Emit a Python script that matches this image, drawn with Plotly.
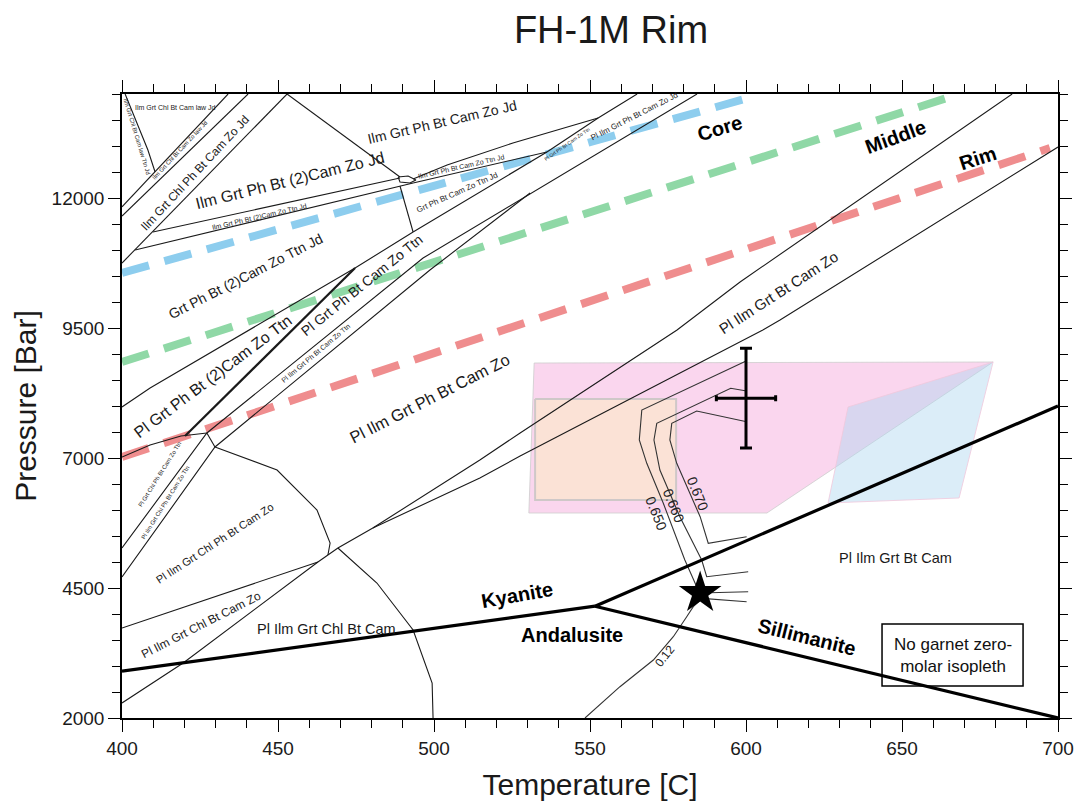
import plotly.graph_objects as go

# ---- phase-field boundaries (T [C], P [Bar]) ----
line_a = [(401.0, 14000), (405.1, 13404), (408.3, 12923), (410.6, 12500)]
line_b = [(434.0, 14000), (400.0, 11830)]
line_c = [(440.4, 14000), (400.0, 11654)]
line_d = [(452.9, 14000), (400.0, 10750)]
line_e = [(452.9, 14000), (489.1, 12404)]
lens = [(488.5, 12404), (491.7, 12423), (494.2, 12346), (492.3, 12288), (489.1, 12308), (488.5, 12404)]
line_g_top = [(409.9, 11346), (489.1, 12385)]
line_g_bot = [(404.2, 11000), (493.3, 12288)]
line_v = [(489.1, 12231), (493.3, 11346)]
line_f = [(493.3, 12365), (504.2, 12635), (525.3, 13058), (552.6, 13538)]
line_h = [(493.3, 12288), (536.2, 12885)]
line_k = [(493.3, 11346), (536.2, 12885), (552.6, 13538), (565.1, 14000)]
line_m1 = [(400.0, 5269), (427.2, 7481), (496.5, 10846), (584.3, 14000)]
line_ld = [(400.0, 4712), (429.8, 7212), (498.7, 10615), (530.8, 12096)]
line_conn = [(427.2, 7481), (429.8, 7212)]
line_la = [(400.0, 7981), (409.0, 8346), (474.7, 10654), (493.3, 11346)]
line_lb = [(420.2, 7423), (474.7, 10654)]
curve_p = [(400.0, 7019), (409.0, 7250), (418.9, 7423), (427.2, 7481)]
arc_1 = [(429.8, 7212), (449.7, 6769), (462.5, 6000), (466.7, 5365), (466.0, 5135)]
line_q1 = [(400.0, 3731), (462.8, 5000)]
line_q2 = [(400.0, 2288), (419.6, 3058), (462.8, 5000)]
line_r = [(462.8, 5000), (466.0, 5135), (469.2, 5269), (480.4, 5654)]
line_up = [(480.4, 5654), (514.7, 6962), (527.6, 7481), (577.9, 9462), (598.1, 10385), (685.3, 14000)]
line_low = [(480.4, 5654), (514.7, 6615), (527.6, 7038), (605.4, 9462), (610.9, 9654), (700.0, 12981)]
arc_2 = [(469.2, 5269), (481.7, 4596), (493.3, 3692), (499.4, 2673), (499.7, 2000)]

thin_lines = [line_a, line_b, line_c, line_d, line_e, lens, line_g_top, line_g_bot, line_v,
              line_f, line_h, line_k, line_m1, line_ld, line_conn, line_la, curve_p, arc_1,
              line_q1, line_q2, line_r, line_up, line_low, arc_2]

# ---- Al2SiO5 reactions ----
triple_point = (551.6, 4150)
ky_and = [(400.0, 2900), triple_point]
ky_sil = [triple_point, (700.0, 8000)]
and_sil = [triple_point, (700.0, 2000)]

# ---- garnet isopleths ----
iso_650 = [(600.2, 8871), (566.6, 7923), (565.8, 7346), (568.2, 6898), (573.5, 6129),
           (580.4, 5038), (584.2, 4525), (585.3, 4404), (600.7, 4429)]
iso_660 = [(600.2, 8290), (595.1, 8340), (571.4, 7667), (570.5, 7346), (572.4, 6769),
           (578.8, 5871), (585.8, 5038), (587.4, 4717), (600.7, 4813)]
iso_670 = [(600.2, 7698), (584.2, 7904), (576.2, 7667), (575.6, 7346), (577.8, 6898),
           (585.3, 5871), (587.9, 5360), (600.2, 5487)]
iso_012 = [(548.4, 2000), (559.6, 2602), (570.3, 3115), (576.7, 3563), (581.0, 3948),
           (583.1, 4140), (586.0, 4300), (600.2, 4237)]

# ---- zoning trends (core / middle / rim) ----
core_T, core_P = [400.0, 601.9], [10558, 13942]
middle_T, middle_P = [400.0, 665.4], [8846, 13942]
rim_T, rim_P = [400.0, 697.4], [7019, 12961]

# ---- P-T estimate fields ----
pink_field = [(532.1, 8827), (679.2, 8846), (606.7, 5942), (530.4, 5942)]
orange_field = [(532.4, 8135), (577.6, 8135), (577.6, 6192), (532.4, 6192)]
blue_field = [(632.7, 7981), (679.2, 8846), (668.3, 6231), (626.3, 6134)]

# ---- peak estimate and star ----
peak_T, peak_P, peak_dT, peak_dP = 600.0, 8150, 9.5, 960
star_T, star_P = 585.3, 4404

# ---- axis ticks ----
x_ticks = [400, 450, 500, 550, 600, 650, 700]
y_ticks = [2000, 4500, 7000, 9500, 12000]

# ---- field labels: text, T, P, angle, size ----
field_labels = [
    ("Ilm Grt Chl Bt Cam law Jd", 417.0, 13750, 0, 7),
    ("Ilm Grt Chl Bt Cam law Ttn Jd", 404.8, 13173, 73, 6),
    ("Ilm Grt Chl Bt Cam Zo law Jd", 418.6, 12923, -47, 6),
    ("Ilm Grt Chl Ph Bt Cam Zo Jd", 423.4, 12481, -47, 12),
    ("Ilm Grt Ph Bt (2)Cam Zo Jd", 453.8, 12346, -14, 16),
    ("Ilm Grt Ph Bt (2)Cam Zo Ttn Jd", 444.2, 11635, -13, 7),
    ("Ilm Grt Ph Bt Cam Zo Jd", 502.6, 13462, -13, 14),
    ("Ilm Grt Ph Bt Cam Zo Ttn Jd", 508.7, 12615, -13, 7),
    ("Grt Ph Bt Cam Zo Ttn Jd", 507.4, 12115, -24, 8),
    ("Pl Grt Ph Bt Cam Zo Ttn", 542.6, 13038, -35, 5),
    ("Pl Ilm Grt Ph Bt Cam Zo Jd", 564.1, 13577, -27, 8),
    ("Grt Ph Bt (2)Cam Zo Ttn Jd", 439.7, 10500, -27, 14),
    ("Pl Grt Ph Bt (2)Cam Zo Ttn", 429.2, 8558, -37, 16),
    ("Pl Grt Ph Bt Cam Zo Ttn", 476.9, 10327, -39, 14),
    ("Pl Ilm Grt Ph Bt Cam Zo Ttn", 461.9, 9019, -40, 7),
    ("Pl Ilm Grt Ph Bt Cam Zo", 498.7, 8154, -27, 16.5),
    ("Pl Grt Chl Ph Bt Cam Zo Ttn", 412.2, 6692, -58, 6),
    ("Pl Ilm Grt Chl Ph Bt Cam Zo Ttn", 413.8, 6135, -58, 6),
    ("Pl Ilm Grt Chl Ph Bt Cam Zo", 429.8, 5365, -33, 11),
    ("Pl Ilm Grt Chl Bt Cam Zo", 425.3, 3788, -27, 12),
    ("Pl Ilm Grt Chl Bt Cam", 465.7, 3712, 0, 14.5),
    ("Pl Ilm Grt Bt Cam Zo", 610.3, 10192, -33, 15),
    ("Pl Ilm Grt Bt Cam", 647.8, 5077, 0, 14.5),
]
mineral_labels = [
    ("Kyanite", 526.6, 4365, -10),
    ("Andalusite", 544.2, 3596, 0),
    ("Sillimanite", 619.6, 3558, 14),
]
zone_labels = [
    ("Core", 591.7, 13346, -17),
    ("Middle", 647.8, 13173, -20),
    ("Rim", 674.4, 12769, -18),
]
iso_labels = [
    ("0.650", 571.2, 5942, 68, 14),
    ("0.660", 576.9, 6077, 68, 14),
    ("0.670", 584.6, 6308, 68, 14),
    ("0.12", 574.0, 3192, -52, 12),
]
note_box = (643.6, 688.8, 2615, 3808)
note_text = "No garnet zero-<br>molar isopleth"

FONT = "Arial, Liberation Sans, sans-serif"

fig = go.Figure()


def add_path(pts, width=1.0, color="#1a1a1a", dash=None, fill=None, fillcolor=None, opacity=1.0):
    xs = [p[0] for p in pts]
    ys = [p[1] for p in pts]
    fig.add_trace(go.Scatter(
        x=xs, y=ys, mode="lines",
        line=dict(color=color, width=width, dash=dash),
        fill=fill, fillcolor=fillcolor, opacity=opacity,
        hoverinfo="skip", showlegend=False,
    ))


# shaded P-T fields
add_path(pink_field + [pink_field[0]], width=1, color="rgba(205,205,205,0.8)",
         fill="toself", fillcolor="#fad6ee")
add_path(orange_field + [orange_field[0]], width=2, color="#cfc8c8",
         fill="toself", fillcolor="#fbe2d6")
add_path(blue_field + [blue_field[0]], width=1, color="rgba(240,200,220,0.8)",
         fill="toself", fillcolor="rgba(175,215,240,0.45)")

# zoning trend lines
add_path(list(zip(core_T, core_P)), width=8, color="#8dcdee", dash="28px,16px")
add_path(list(zip(middle_T, middle_P)), width=8, color="#8fd8a6", dash="28px,16px")
add_path(list(zip(rim_T, rim_P)), width=8, color="#ef8d8e", dash="28px,16px")

# phase-field boundaries
for pts in thin_lines:
    add_path(pts, width=1.1)
add_path(line_lb, width=2.2)

# isopleths
for pts in (iso_650, iso_660, iso_670, iso_012):
    add_path(pts, width=1.1, color="#333333")

# Al2SiO5 reactions
for pts in (ky_and, ky_sil, and_sil):
    add_path(pts, width=3.2, color="#000000")

# peak estimate with uncertainties
fig.add_trace(go.Scatter(
    x=[peak_T], y=[peak_P], mode="markers",
    marker=dict(size=1, color="black"),
    error_x=dict(type="data", array=[peak_dT], color="black", thickness=3, width=3),
    error_y=dict(type="data", array=[peak_dP], color="black", thickness=3, width=6),
    hoverinfo="skip", showlegend=False,
))

# star
fig.add_trace(go.Scatter(
    x=[star_T], y=[star_P], mode="markers",
    marker=dict(symbol="star", size=32, color="black"),
    hoverinfo="skip", showlegend=False,
))

annotations = []
for text, t, p, ang, size in field_labels:
    annotations.append(dict(x=t, y=p, text=text, textangle=ang, showarrow=False,
                            font=dict(family=FONT, size=size, color="#1a1a1a")))
for text, t, p, ang in mineral_labels:
    annotations.append(dict(x=t, y=p, text="<b>%s</b>" % text, textangle=ang, showarrow=False,
                            font=dict(family=FONT, size=20, color="#000000")))
for text, t, p, ang in zone_labels:
    annotations.append(dict(x=t, y=p, text="<b>%s</b>" % text, textangle=ang, showarrow=False,
                            font=dict(family=FONT, size=20, color="#000000")))
for text, t, p, ang, size in iso_labels:
    annotations.append(dict(x=t, y=p, text=text, textangle=ang, showarrow=False,
                            font=dict(family=FONT, size=size, color="#222222")))
annotations.append(dict(x=(note_box[0] + note_box[1]) / 2, y=(note_box[2] + note_box[3]) / 2,
                        text=note_text, showarrow=False,
                        font=dict(family=FONT, size=17, color="#111111")))

fig.add_shape(type="rect", x0=note_box[0], x1=note_box[1], y0=note_box[2], y1=note_box[3],
              line=dict(color="black", width=1.5), fillcolor="white", layer="below")

fig.update_layout(
    width=1088, height=803,
    margin=dict(l=122, r=30, t=94, b=85),
    paper_bgcolor="white", plot_bgcolor="white",
    title=dict(text="FH-1M Rim", x=0.5616, xanchor="center", y=0.963, yanchor="middle",
               font=dict(family=FONT, size=38, color="#1a1a1a")),
    annotations=annotations,
    font=dict(family=FONT, color="#1a1a1a"),
)
fig.update_xaxes(
    range=[400, 700], tickvals=x_ticks, ticktext=[str(v) for v in x_ticks],
    showgrid=False, zeroline=False, automargin=False,
    showline=True, linecolor="black", linewidth=1.5, mirror="ticks",
    ticks="outside", ticklen=12, tickwidth=1.3, tickcolor="black",
    minor=dict(dtick=10, tick0=400, ticks="outside", ticklen=8, tickwidth=1.1, tickcolor="black", showgrid=False),
    tickfont=dict(family=FONT, size=19, color="#1a1a1a"),
    title=dict(text="Temperature [C]", font=dict(family=FONT, size=30, color="#1a1a1a"), standoff=16),
)
fig.update_yaxes(
    range=[2000, 14000], tickvals=y_ticks, ticktext=[str(v) for v in y_ticks],
    showgrid=False, zeroline=False, automargin=False,
    showline=True, linecolor="black", linewidth=1.5, mirror="ticks",
    ticks="outside", ticklen=12, tickwidth=1.3, tickcolor="black",
    minor=dict(dtick=500, tick0=2000, ticks="outside", ticklen=8, tickwidth=1.1, tickcolor="black", showgrid=False),
    tickfont=dict(family=FONT, size=19, color="#1a1a1a"),
    title=dict(text="Pressure [Bar]", font=dict(family=FONT, size=30, color="#1a1a1a"), standoff=6),
)

fig.write_html("out.html")
